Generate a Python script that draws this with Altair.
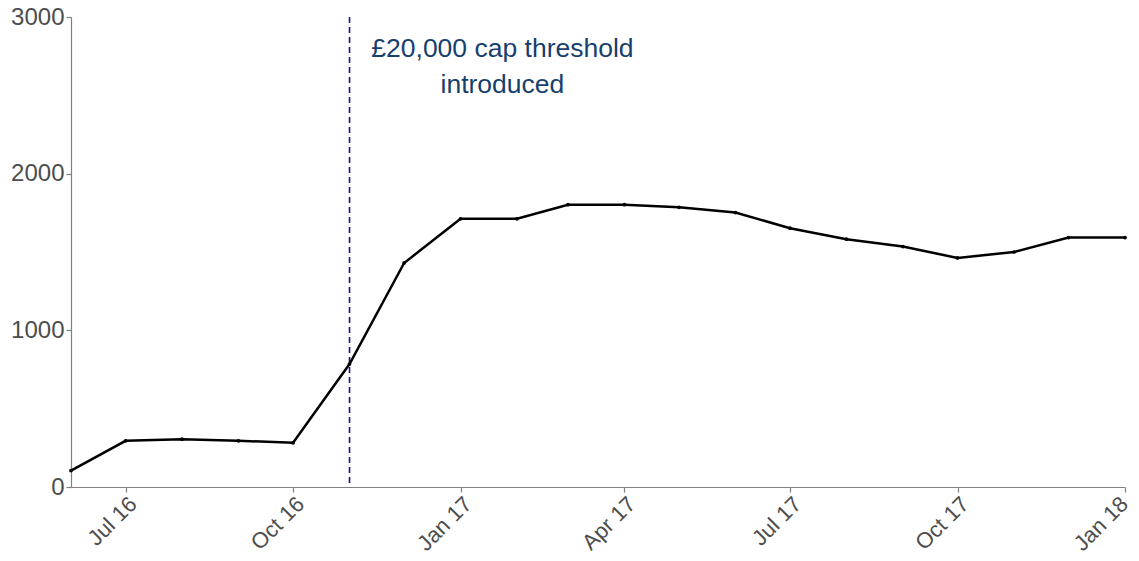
import altair as alt
import pandas as pd

months = ["2016-06-01", "2016-07-01", "2016-08-01", "2016-09-01", "2016-10-01",
          "2016-11-01", "2016-12-01", "2017-01-01", "2017-02-01", "2017-03-01",
          "2017-04-01", "2017-05-01", "2017-06-01", "2017-07-01", "2017-08-01",
          "2017-09-01", "2017-10-01", "2017-11-01", "2017-12-01", "2018-01-01"]
values = [105, 295, 305, 295, 282,
          785, 1430, 1712, 1712, 1802,
          1802, 1785, 1752, 1652, 1582,
          1535, 1462, 1500, 1592, 1592]

tick_dates = [(2016, 7), (2016, 10), (2017, 1), (2017, 4), (2017, 7), (2017, 10), (2018, 1)]
y_ticks = [0, 1000, 2000, 3000]

threshold_date = "2016-11-01"
annotation_lines = ["£20,000 cap threshold", "introduced"]
annotation_x = "2017-01-24"
annotation_y = 2877

df = pd.DataFrame({"date": months, "value": values})

font = "Liberation Sans"

x_enc = alt.X(
    "date:T",
    scale=alt.Scale(type="utc",
                    domain=[alt.DateTime(year=2016, month=6, date=1, utc=True),
                            alt.DateTime(year=2018, month=1, date=1, utc=True)]),
    axis=alt.Axis(
        values=[alt.DateTime(year=y, month=m, date=1, utc=True) for y, m in tick_dates],
        labelExpr="utcFormat(datum.value, '%b %y')", labelAngle=315, title=None,
        labelFontSize=22, labelPadding=1, labelBaseline="top", labelAlign="right",
        labelOffset={"condition": {"test": "utcyear(datum.value) >= 2018", "value": -8},
                     "value": 0},
    ),
)
y_enc = alt.Y(
    "value:Q",
    scale=alt.Scale(domain=[0, 3000], nice=False),
    axis=alt.Axis(values=y_ticks, title=None, format="d"),
)

line = alt.Chart(df).mark_line(
    color="black", strokeWidth=2.5,
    point=alt.OverlayMarkDef(color="black", size=14, filled=True),
).encode(x=x_enc, y=y_enc)

rule_df = pd.DataFrame({"date": [threshold_date]})
rule = alt.Chart(rule_df).mark_rule(
    color="#14148c", strokeWidth=1.6, strokeDash=[6, 4]
).encode(x=alt.X("date:T"))

text_df = pd.DataFrame({"date": [annotation_x], "value": [annotation_y],
                        "label": [annotation_lines]})
text = alt.Chart(text_df).mark_text(
    font=font, fontSize=26.5, color="#173f6e", align="center", baseline="top",
    lineHeight=36,
).encode(x=alt.X("date:T"), y=alt.Y("value:Q"), text="label")

chart = alt.layer(rule, line, text).properties(
    width=1054, height=470,
    autosize=alt.AutoSizeParams(type="none"),
    padding={"left": 63, "top": 9, "right": 6, "bottom": 66},
).configure_view(stroke=None).configure_axis(
    grid=False,
    domainColor="#808080", domainWidth=1.2,
    tickColor="#808080", tickSize=5, tickWidth=1.2,
    labelColor="#4d4d4d", labelFont=font, labelFontSize=24, labelPadding=2,
)

chart.save("out.html", embed_options={"renderer": "svg", "actions": False})
